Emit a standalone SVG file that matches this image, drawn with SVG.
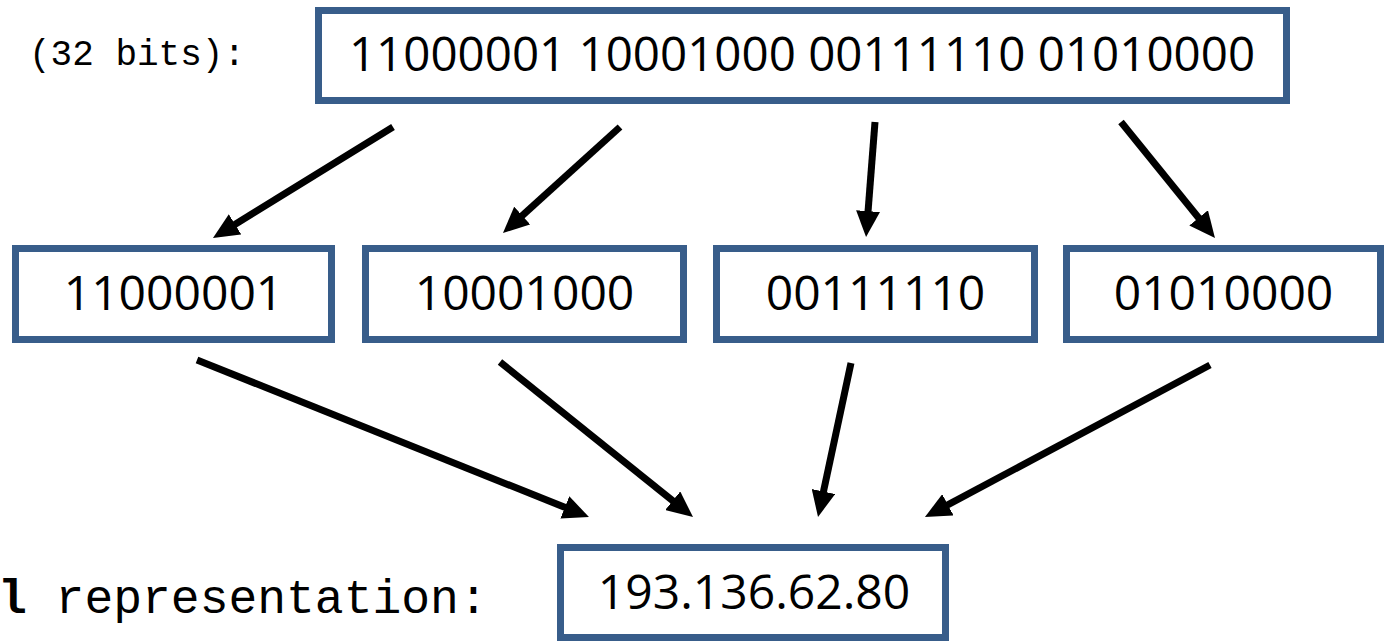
<svg xmlns="http://www.w3.org/2000/svg" width="1388" height="641" viewBox="0 0 1388 641">
<style>
.box{fill:#fff;stroke:#385D8A;stroke-width:7}
.t{font-family:"Open Sans","Liberation Sans",sans-serif;font-size:48px;fill:#000;text-anchor:middle}
.m{font-family:"Liberation Mono","Courier New",monospace;fill:#000}
.c{stroke:#000;stroke-width:7;fill:none;marker-end:url(#ah)}
</style>
<defs>
<marker id="ah" markerUnits="userSpaceOnUse" markerWidth="26" markerHeight="24" refX="6" refY="12" orient="auto" viewBox="0 0 26 24">
<path d="M0,0 L26,12 L0,24 z" fill="#000"/>
</marker>
</defs>
<rect width="1388" height="641" fill="#fff"/>
<text class="m" x="29" y="65" font-size="36">(32 bits):</text>
<text class="m" x="-2" y="613" font-size="48"><tspan font-weight="bold">l</tspan> representation:</text>
<g id="n-all">
<rect class="box" x="318.5" y="10.5" width="968" height="90"/>
<text class="t" x="802" y="71" style="font-size:47.5px">11000001 10001000 00111110 01010000</text>
</g>
<g id="n-b1">
<rect class="box" x="15.5" y="248.5" width="316" height="91"/>
<text class="t" x="173.5" y="310">11000001</text>
</g>
<g id="n-b2">
<rect class="box" x="365.5" y="248.5" width="318" height="91"/>
<text class="t" x="524.5" y="310">10001000</text>
</g>
<g id="n-b3">
<rect class="box" x="716.5" y="248.5" width="318" height="91"/>
<text class="t" x="875.5" y="310">00111110</text>
</g>
<g id="n-b4">
<rect class="box" x="1066.5" y="248.5" width="314" height="91"/>
<text class="t" x="1223.5" y="310">01010000</text>
</g>
<g id="n-dec">
<rect class="box" x="560.5" y="547.5" width="385" height="90"/>
<text class="t" x="754" y="609">193.136.62.80</text>
</g>
<g id="connectors">
<path class="c" d="M393,127 L230,227.5"/>
<path class="c" d="M620,127 L517.8,219.6"/>
<path class="c" d="M875,122 L867.6,217.1"/>
<path class="c" d="M1121,122 L1202.4,222.5"/>
<path class="c" d="M197,360 L570.4,509.6"/>
<path class="c" d="M500,362 L677.4,504.5"/>
<path class="c" d="M851,363 L822.2,497.4"/>
<path class="c" d="M1210,365 L942.6,507.6"/>
</g>
</svg>
